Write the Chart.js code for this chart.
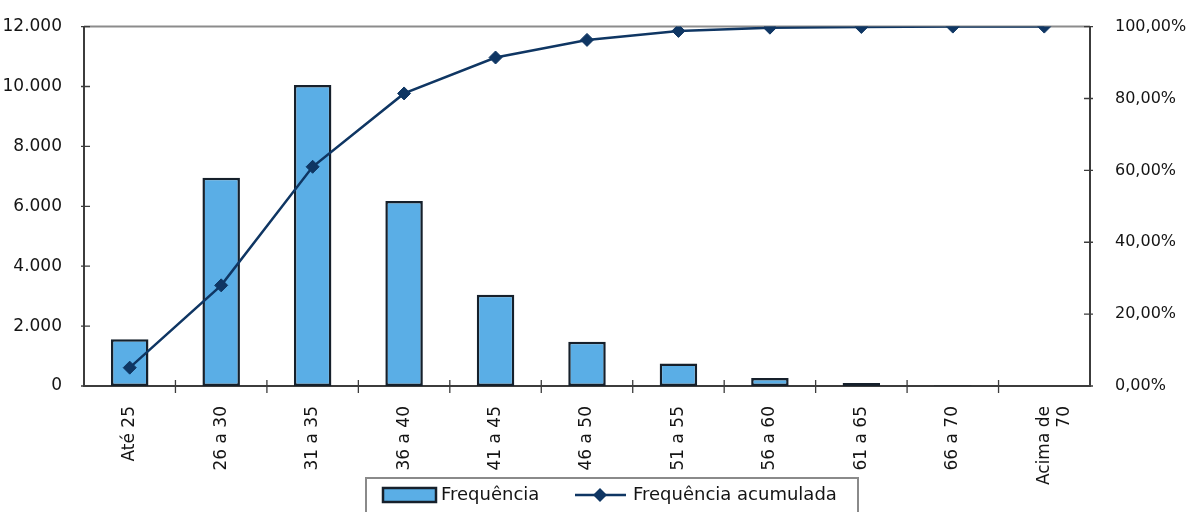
<!DOCTYPE html>
<html lang="pt-BR">
<head>
<meta charset="utf-8">
<title>Frequência por faixa etária</title>
<script src="https://cdn.jsdelivr.net/npm/chart.js@4/dist/chart.umd.min.js"></script>
<style>
  html, body { margin: 0; padding: 0; background: #ffffff; }
  #wrap { width: 1188px; height: 512px; overflow: hidden; }
</style>
</head>
<body>
<div id="wrap"><canvas id="grafico" width="1188" height="512"></canvas></div>
<script>
// Faixas etárias (eixo X)
const categories = ['Até 25', '26 a 30', '31 a 35', '36 a 40', '41 a 45', '46 a 50',
                    '51 a 55', '56 a 60', '61 a 65', '66 a 70', ['Acima de', '70']];
// Frequência absoluta de cada faixa
const frequencia = [1560, 6950, 10050, 6180, 3050, 1480, 750, 270, 100, 20, 0];
// Frequência acumulada (%)
const acumulada = [5.1, 28.0, 61.0, 81.4, 91.4, 96.3, 98.8, 99.7, 99.9, 100, 100];
// Marcas dos eixos
const leftTicks = [0, 2000, 4000, 6000, 8000, 10000, 12000];
const rightTicks = [0, 20, 40, 60, 80, 100];
const seriesNames = ['Frequência', 'Frequência acumulada'];

const FONT = '"DejaVu Sans", "Liberation Sans", Arial, sans-serif';
const TEXT_COLOR = '#141414';
const BAR_FILL = '#5aaee6';
const BAR_EDGE = '#16202b';
const LINE_COLOR = '#0f3663';
const AXIS_COLOR = '#3c3c3c';

const fmtMilhar = v => String(v).replace(/\B(?=(\d{3})+(?!\d))/g, '.');
const fmtPct = v => v.toFixed(2).replace('.', ',') + '%';

// Moldura, eixos e pequenas marcas cruzando as linhas dos eixos
const eixosPlugin = {
  id: 'eixos',
  beforeDatasetsDraw(chart) {
    const { ctx, chartArea: a, scales } = chart;
    ctx.save();
    ctx.lineWidth = 2;
    // borda superior (mais clara)
    ctx.strokeStyle = '#8c8c8c';
    ctx.beginPath(); ctx.moveTo(a.left, a.top); ctx.lineTo(a.right, a.top); ctx.stroke();
    ctx.strokeStyle = AXIS_COLOR;
    ctx.beginPath();
    ctx.moveTo(a.left, a.top); ctx.lineTo(a.left, a.bottom);
    ctx.moveTo(a.right, a.top); ctx.lineTo(a.right, a.bottom);
    ctx.moveTo(a.left - 1, a.bottom); ctx.lineTo(a.right + 1, a.bottom);
    ctx.stroke();
    ctx.lineWidth = 1.3;
    ctx.beginPath();
    scales.y.ticks.forEach(t => {
      const py = scales.y.getPixelForValue(t.value);
      ctx.moveTo(a.left - 3, py); ctx.lineTo(a.left + 6, py);
    });
    scales.y2.ticks.forEach(t => {
      const py = scales.y2.getPixelForValue(t.value);
      ctx.moveTo(a.right - 6, py); ctx.lineTo(a.right + 3, py);
    });
    const n = chart.data.labels.length;
    for (let i = 1; i < n; i++) {
      const px = (scales.x.getPixelForTick(i - 1) + scales.x.getPixelForTick(i)) / 2;
      ctx.moveTo(px, a.bottom - 6); ctx.lineTo(px, a.bottom + 7);
    }
    ctx.stroke();
    ctx.restore();
  }
};

// Legenda com moldura, abaixo do gráfico
const legendaPlugin = {
  id: 'legenda',
  afterDraw(chart) {
    const { ctx } = chart;
    const dsBar = chart.data.datasets.find(d => d.type === 'bar');
    const dsLine = chart.data.datasets.find(d => d.type === 'line');
    ctx.save();
    ctx.strokeStyle = '#8a8a8a';
    ctx.lineWidth = 2;
    ctx.strokeRect(366, 478, 492, 50);
    // amostra das barras
    ctx.fillStyle = dsBar.backgroundColor;
    ctx.fillRect(383, 488, 53, 14);
    ctx.strokeStyle = dsBar.borderColor;
    ctx.lineWidth = 2.5;
    ctx.strokeRect(383, 488, 53, 14);
    ctx.fillStyle = TEXT_COLOR;
    ctx.font = '18px ' + FONT;
    ctx.textBaseline = 'middle';
    ctx.textAlign = 'left';
    ctx.fillText(dsBar.label, 441, 495);
    // amostra da linha
    ctx.strokeStyle = dsLine.borderColor;
    ctx.lineWidth = 2.5;
    ctx.beginPath(); ctx.moveTo(575, 495); ctx.lineTo(626, 495); ctx.stroke();
    ctx.fillStyle = dsLine.pointBackgroundColor;
    ctx.beginPath();
    ctx.moveTo(600, 488); ctx.lineTo(607, 495); ctx.lineTo(600, 502); ctx.lineTo(593, 495);
    ctx.closePath(); ctx.fill();
    ctx.fillStyle = TEXT_COLOR;
    ctx.fillText(dsLine.label, 633, 495);
    ctx.restore();
  }
};

new Chart(document.getElementById('grafico'), {
  data: {
    labels: categories,
    datasets: [
      {
        type: 'bar',
        label: seriesNames[0],
        data: frequencia,
        yAxisID: 'y',
        backgroundColor: BAR_FILL,
        borderColor: BAR_EDGE,
        borderWidth: 2.5,
        borderSkipped: false,
        categoryPercentage: 1,
        barPercentage: 0.41,
        order: 1
      },
      {
        type: 'line',
        label: seriesNames[1],
        data: acumulada,
        yAxisID: 'y2',
        borderColor: LINE_COLOR,
        backgroundColor: LINE_COLOR,
        borderWidth: 2.5,
        pointStyle: 'rectRot',
        pointRadius: 6.5,
        pointBorderWidth: 1,
        pointBackgroundColor: LINE_COLOR,
        pointBorderColor: LINE_COLOR,
        tension: 0,
        order: 0
      }
    ]
  },
  options: {
    responsive: false,
    devicePixelRatio: 1,
    animation: false,
    layout: { padding: { top: 26, left: 0, right: 0, bottom: 0 } },
    plugins: { legend: { display: false }, tooltip: { enabled: false } },
    scales: {
      x: {
        type: 'category',
        offset: true,
        grid: { display: false },
        border: { display: false },
        ticks: {
          color: TEXT_COLOR,
          font: { family: FONT, size: 17 },
          minRotation: 90,
          maxRotation: 90,
          padding: 12,
          autoSkip: false
        },
        afterFit(s) { s.height = 126; }
      },
      y: {
        position: 'left',
        min: 0,
        max: 12000,
        grid: { display: false },
        border: { display: false },
        afterBuildTicks(s) { s.ticks = leftTicks.map(v => ({ value: v })); },
        ticks: {
          color: TEXT_COLOR,
          font: { family: FONT, size: 17 },
          padding: 14,
          callback: v => fmtMilhar(v)
        },
        afterFit(s) { s.width = 84; }
      },
      y2: {
        position: 'right',
        min: 0,
        max: 100,
        grid: { display: false },
        border: { display: false },
        afterBuildTicks(s) { s.ticks = rightTicks.map(v => ({ value: v })); },
        ticks: {
          color: TEXT_COLOR,
          font: { family: FONT, size: 16 },
          padding: 17,
          callback: v => fmtPct(v)
        },
        afterFit(s) { s.width = 98; }
      }
    }
  },
  plugins: [eixosPlugin, legendaPlugin]
});
</script>
</body>
</html>
